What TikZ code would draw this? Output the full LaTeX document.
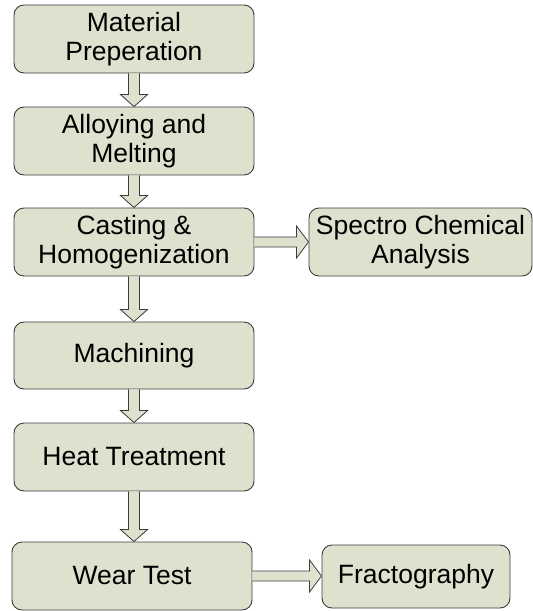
\documentclass[tikz,border=0pt]{standalone}
\usepackage{fontspec}
\setmainfont{Liberation Sans}
\usetikzlibrary{calc}
\definecolor{boxfill}{RGB}{221,225,205}
\definecolor{boxline}{RGB}{60,60,60}
\newcommand\vblock[2]{%
  \draw[blk] let \p1=(#1.south), \p2=(#2.north) in
    (\x1-5.5pt,\y1) -- (\x1-5.5pt,\y2+12pt) -- (\x1-13.5pt,\y2+12pt) -- (\x1,\y2)
    -- (\x1+13.5pt,\y2+12pt) -- (\x1+5.5pt,\y2+12pt) -- (\x1+5.5pt,\y1);}
\newcommand\hblock[2]{%
  \draw[blk] let \p1=(#1.east), \p2=(#2.west) in
    (\x1,\y1+5pt) -- (\x2-12pt,\y1+5pt) -- (\x2-12pt,\y1+16pt) -- (\x2,\y1)
    -- (\x2-12pt,\y1-16pt) -- (\x2-12pt,\y1-5pt) -- (\x1,\y1-5pt);}
\begin{document}
\begin{tikzpicture}[x=1pt,y=-1pt,
  stepbox/.style={draw=boxline, fill=boxfill, rounded corners=10pt, line width=0.9pt,
    align=center, inner sep=0pt, minimum width=240pt, minimum height=68pt,
    font=\fontsize{26.5}{29.5}\selectfont},
  blk/.style={draw=boxline, fill=boxfill, line width=0.8pt, line join=miter}]
\useasboundingbox (0,0) rectangle (533,611);
\node[stepbox] (mp) at (134,39) {Material\\Preperation};
\node[stepbox] (am) at (134,141) {Alloying and\\Melting};
\node[stepbox] (ch) at (134,242) {Casting \&\\Homogenization};
\node[stepbox, minimum height=67pt] (ma) at (134,355.5) {Machining};
\node[stepbox] (ht) at (134,457) {Heat Treatment};
\node[stepbox] (wt) at (132,576) {Wear Test};
\node[stepbox, minimum width=223pt] (sc) at (420.5,242) {Spectro Chemical\\Analysis};
\node[stepbox, minimum width=188pt, minimum height=63pt] (fr) at (416,576.5) {Fractography};
\vblock{mp}{am}
\vblock{am}{ch}
\vblock{ch}{ma}
\vblock{ma}{ht}
\vblock{ht}{wt}
\hblock{ch}{sc}
\hblock{wt}{fr}
\end{tikzpicture}
\end{document}
